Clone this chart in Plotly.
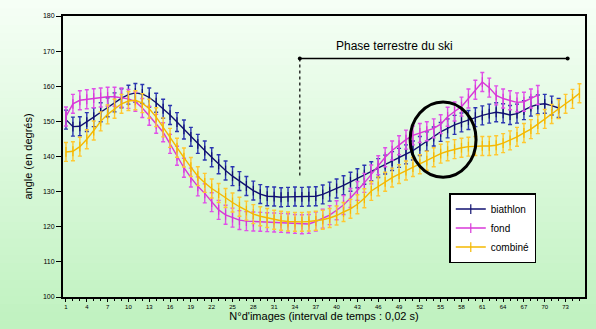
import plotly.graph_objects as go

# ---------------- data ----------------
biathlon = [150.5, 148.5, 148.6, 149.8, 151.2, 152.6, 154.0, 155.4, 156.6, 157.6,
            158.1, 157.8, 156.8, 155.3, 153.6, 151.8, 149.8, 147.7, 145.6, 143.6,
            141.7, 139.8, 137.8, 136.0, 134.4, 133.0, 131.6, 130.3, 129.3, 128.7,
            128.6, 128.4, 128.5, 128.6, 128.5, 128.6, 128.7, 129.2, 130.0, 130.9,
            131.8, 132.8, 133.8, 134.8, 135.8, 136.7, 137.7, 138.7, 139.6, 140.6,
            141.7, 143.0, 144.3, 145.7, 147.0, 148.0, 149.0, 149.7, 150.4, 151.2,
            151.7, 152.2, 152.6, 152.3, 151.8, 152.2, 153.2, 154.2, 154.8, 155.0,
            154.5, 153.8]
fond = [151.4, 155.0, 156.0, 156.3, 156.6, 156.8, 157.0, 157.0, 156.8, 156.4,
        155.6, 153.8, 151.6, 149.3, 146.9, 143.6, 140.2, 136.8, 134.0, 131.5,
        129.5, 127.0, 124.8, 123.4, 122.6, 121.9, 121.6, 121.5, 121.4, 121.3,
        121.2, 121.1, 121.0, 120.8, 120.7, 120.8, 121.5, 122.3, 123.3, 124.7,
        126.2, 128.2, 130.2, 132.5, 134.9, 137.5, 139.8, 141.7, 143.2, 144.8,
        146.0, 146.7, 147.2, 148.0, 149.2, 151.3, 152.8, 154.2, 156.5, 159.0,
        161.2, 159.6, 157.4, 156.5, 156.0, 155.4, 155.6, 156.5, 157.5]
combine = [141.3, 141.5, 142.8, 144.9, 147.4, 150.0, 152.0, 153.6, 155.0, 155.8,
           156.0, 155.2, 153.6, 151.2, 148.3, 145.3, 142.5, 139.7, 137.0, 134.4,
           132.5, 130.9, 129.6, 128.2, 126.9, 125.7, 124.6, 123.6, 123.0, 122.5,
           122.0, 121.7, 121.5, 121.4, 121.4, 121.5, 121.7, 122.0, 122.5, 123.2,
           124.2, 125.1, 126.4, 128.1, 130.2, 131.5, 132.8, 134.0, 135.0, 136.0,
           137.0, 137.8, 138.8, 139.8, 140.8, 141.5, 142.1, 142.5, 142.8, 143.0,
           143.0, 143.0, 143.2, 143.8, 144.6, 145.6, 146.7, 147.8, 149.2, 150.7,
           152.1, 153.5, 155.0, 156.4, 158.0]
err_biathlon = 2.7
err_fond = 2.7
err_combine = 2.7

series_names = ["biathlon", "fond", "combiné"]
x_tick_values = list(range(1, 74, 3))
y_tick_values = [100, 110, 120, 130, 140, 150, 160, 170, 180]

# annotation positions (data units)
phase_x0, phase_x1, phase_y = 34.7, 73.3, 167.9
phase_dash_bottom = 134.0
phase_text_x = 48.3
circle_x0, circle_x1, circle_y0, circle_y1 = 50.6, 60.1, 134.1, 155.5

# ---------------- figure ----------------
W, H = 596, 329
ML, MR, MT, MB = 63, 11, 16, 32
ph = H - MT - MB

fig = go.Figure()

def add_series(vals, name, line_col, err_col, err):
    xs = list(range(1, len(vals) + 1))
    fig.add_trace(go.Scatter(
        x=xs, y=vals, name=name, mode="lines+markers",
        line=dict(color=line_col, width=1.4),
        marker=dict(symbol="line-ns-open", size=7, color=line_col,
                    line=dict(color=line_col, width=1.2)),
        error_y=dict(type="constant", value=err, color=err_col,
                     thickness=1.4, width=2),
    ))

add_series(biathlon, series_names[0], "#101070", "#2a35b0", err_biathlon)
add_series(fond, series_names[1], "#d838d8", "#e050e8", err_fond)
add_series(combine, series_names[2], "#f5b800", "#ffc830", err_combine)

# background gradient bands covering whole figure
shapes = []
n = 40
y_bot = -MB / ph
y_top = 1 + MT / ph
x_left = -ML / (W - ML - MR)
x_right = 1 + MR / (W - ML - MR)
top_c = (246, 255, 246)
bot_c = (192, 242, 192)
for k in range(n):
    f = k / (n - 1)
    c = tuple(int(bot_c[j] + (top_c[j] - bot_c[j]) * f) for j in range(3))
    ya = y_bot + (y_top - y_bot) * k / n
    yb = y_bot + (y_top - y_bot) * (k + 1) / n + 0.002
    shapes.append(dict(type="rect", xref="paper", yref="paper",
                       x0=x_left, x1=x_right, y0=ya, y1=yb,
                       fillcolor="rgb(%d,%d,%d)" % c, line=dict(width=0),
                       layer="below"))

# phase line
shapes.append(dict(type="line", xref="x", yref="y", x0=phase_x0, x1=phase_x1,
                   y0=phase_y, y1=phase_y, line=dict(color="black", width=1.5)))
shapes.append(dict(type="line", xref="x", yref="y", x0=phase_x0, x1=phase_x0,
                   y0=phase_y, y1=phase_dash_bottom,
                   line=dict(color="black", width=1.2, dash="dot")))
# circle
shapes.append(dict(type="circle", xref="x", yref="y", x0=circle_x0, x1=circle_x1,
                   y0=circle_y0, y1=circle_y1, line=dict(color="black", width=3)))

fig.add_trace(go.Scatter(x=[phase_x0, phase_x1], y=[phase_y, phase_y], mode="markers",
                         marker=dict(color="black", size=4), showlegend=False,
                         hoverinfo="skip"))

annotations = [dict(x=phase_text_x, y=phase_y, xref="x", yref="y",
                    text="Phase terrestre du ski", showarrow=False, yshift=13,
                    font=dict(size=12, color="black", family="Arial"))]

fig.update_layout(
    width=W, height=H,
    margin=dict(l=ML, r=MR, t=MT, b=MB, autoexpand=False),
    paper_bgcolor="rgb(205,245,205)",
    plot_bgcolor="rgba(0,0,0,0)",
    shapes=shapes, annotations=annotations,
    font=dict(family="Arial", color="black"),
    legend=dict(x=0.74, y=0.37, xanchor="left", yanchor="top",
                bgcolor="white", bordercolor="black", borderwidth=1.5,
                font=dict(size=10, family="Arial"), tracegroupgap=0,
                itemwidth=30),
    showlegend=True,
)
fig.update_xaxes(range=[0.57, 75.8], tickmode="array", tickvals=x_tick_values,
                 ticktext=[str(v) for v in x_tick_values],
                 tickfont=dict(size=6), tickangle=0, automargin=False,
                 ticks="outside", ticklen=3, tickcolor="black",
                 minor=dict(dtick=1, tick0=0, ticks="outside", ticklen=2,
                            tickcolor="black"),
                 showgrid=False, zeroline=False,
                 showline=True, linecolor="black", linewidth=1.5, mirror=True,
                 title=dict(text="N°d'images (interval de temps : 0,02 s)",
                            font=dict(size=11), standoff=3))
fig.update_yaxes(range=[100, 180], tickvals=y_tick_values,
                 tickfont=dict(size=7), automargin=False,
                 ticks="outside", ticklen=5, tickcolor="black",
                 showgrid=False, zeroline=False,
                 showline=True, linecolor="black", linewidth=2, mirror=True,
                 title=dict(text="angle (en degrés)", font=dict(size=11),
                            standoff=8))

fig.write_html("out.html", config={"displayModeBar": False},
               post_script="document.body.style.margin='0';document.body.style.overflow='hidden';")
